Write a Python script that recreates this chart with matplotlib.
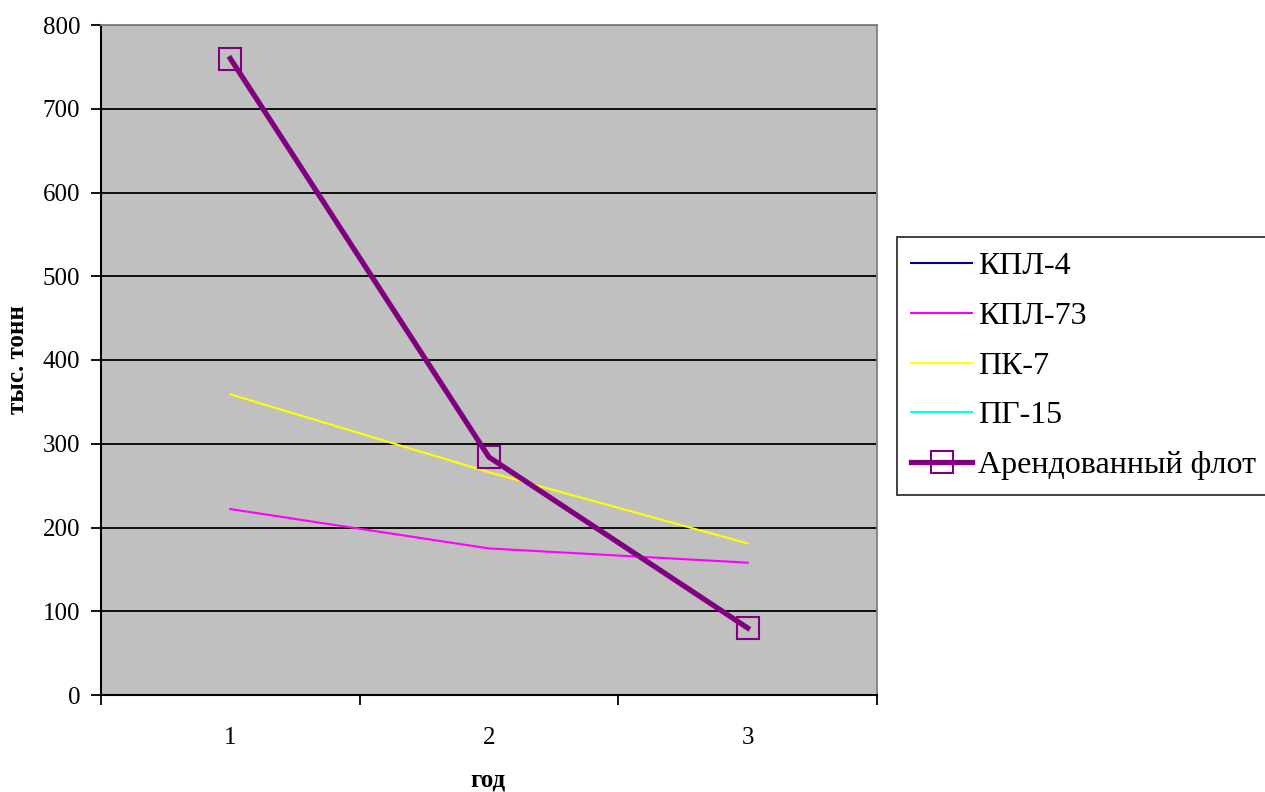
import matplotlib.pyplot as plt
import numpy as np
from matplotlib.ticker import FixedLocator, NullFormatter

plt.rcParams['font.family'] = ['Liberation Serif', 'DejaVu Serif']

# Data
years = [1, 2, 3]
kpl4 = [np.nan, np.nan, np.nan]
kpl73 = [222, 175, 158]
pk7 = [359, 266, 181]
pg15 = [np.nan, np.nan, np.nan]
arend = [760, 284, 80]

fig = plt.figure(figsize=(12.65, 7.92), dpi=100)
ax = fig.add_axes([101 / 1265, 1 - 695 / 792, (877 - 101) / 1265, (695 - 25) / 792])
ax.set_facecolor('#C0C0C0')

ax.plot(years, kpl4, color='#000080', lw=1.5, label='КПЛ-4')
ax.plot(years, kpl73, color='#FF00FF', lw=1.5, label='КПЛ-73')
ax.plot(years, pk7, color='#FFFF00', lw=1.5, label='ПК-7')
ax.plot(years, pg15, color='#00FFFF', lw=1.5, label='ПГ-15')
ax.plot(years, arend, color='#800080', lw=3.8, marker='s', markersize=16,
        markerfacecolor='none', markeredgecolor='#800080', markeredgewidth=1.5,
        label='Арендованный флот')

ax.set_xlim(0.5, 3.5)
ax.set_ylim(0, 800)
ax.set_yticks(np.arange(0, 801, 100))
ax.yaxis.grid(True, color='black', lw=1.3)
ax.set_axisbelow(True)

# category axis: ticks between categories, labels centered
ax.xaxis.set_major_locator(FixedLocator([0.5, 1.5, 2.5, 3.5]))
ax.xaxis.set_major_formatter(NullFormatter())
ax.xaxis.set_minor_locator(FixedLocator(years))
ax.set_xticklabels([str(y) for y in years], minor=True)
ax.tick_params(axis='x', which='minor', length=0, pad=23, labelsize=18)
ax.tick_params(axis='x', which='major', length=7, width=1.3, direction='out')
ax.tick_params(axis='y', length=7, width=1.3, direction='out', pad=8, labelsize=18)

for s in ['top', 'right']:
    ax.spines[s].set_color('#808080')
    ax.spines[s].set_linewidth(1.3)
for s in ['left', 'bottom']:
    ax.spines[s].set_color('black')
    ax.spines[s].set_linewidth(1.5)

# axis titles
fig.text(488 / 1265, 1 - 780 / 792, 'год', fontsize=18, fontweight='bold',
         ha='center', va='center')
ax.set_ylabel('тыс. тонн', fontsize=18, fontweight='bold', labelpad=10)

leg = fig.legend(loc='center left', bbox_to_anchor=(897 / 1265, 1 - 366 / 792),
                 fontsize=23, frameon=True, fancybox=False, handlelength=1.9,
                 handletextpad=0.2, labelspacing=0.64, borderpad=0.45,
                 borderaxespad=0)
leg.get_frame().set_edgecolor('black')
leg.get_frame().set_linewidth(1.3)

fig.savefig('out.png', dpi=100, facecolor='white')
